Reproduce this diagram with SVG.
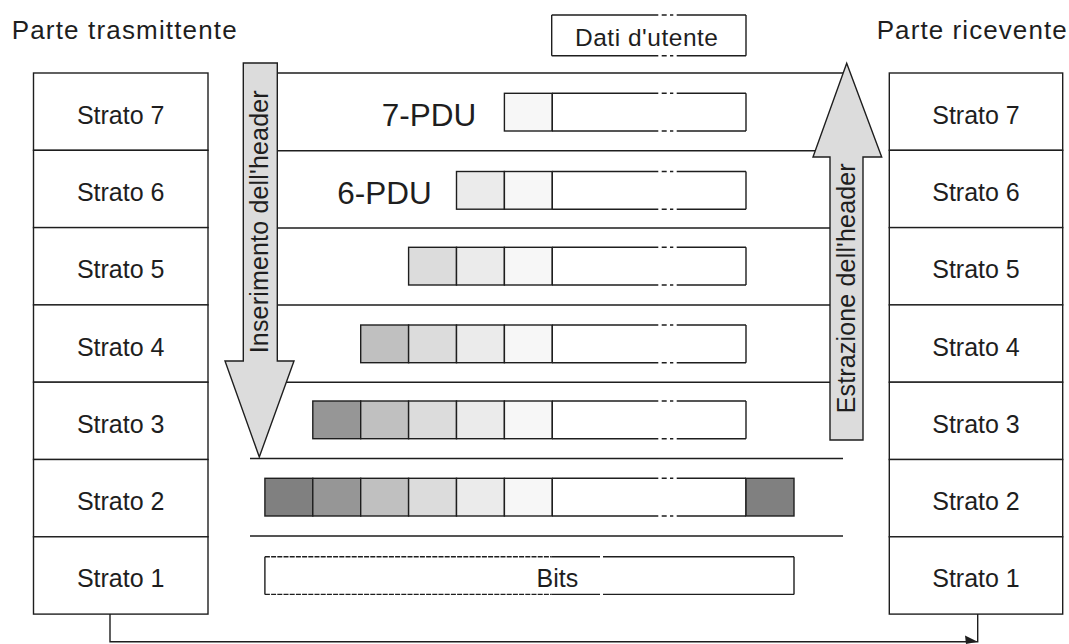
<svg xmlns="http://www.w3.org/2000/svg" width="1069" height="644" viewBox="0 0 1069 644">
  <style>
    .box { fill: #ffffff; stroke: #1e1e1e; stroke-width: 1.4; }
    .ln { fill: none; stroke: #1e1e1e; stroke-width: 1.4; }
    .cell { stroke: #1e1e1e; stroke-width: 1.4; }
    .arrow { fill: #dcdcdc; stroke: #1e1e1e; stroke-width: 1.4; stroke-linejoin: miter; }
    .t { font-family: "Liberation Sans", Arial, sans-serif; fill: #1e1e1e; }
    .lbl { font-size: 25px; text-anchor: middle; }
    .title { font-size: 26px; }
    .pdu { font-size: 31.5px; }
    .h1 { fill: #f7f7f7; }
    .h2 { fill: #ebebeb; }
    .h3 { fill: #dcdcdc; }
    .h4 { fill: #c0c0c0; }
    .h5 { fill: #969696; }
    .h6 { fill: #808080; }
  </style>
  <defs>
    <!-- user-data block with a break mark in its top and bottom edges -->
    <g id="data">
      <rect x="552.3" y="0" width="193.7" height="37.7" fill="#ffffff"/>
      <path class="ln" d="M552.3,0 V37.7 M746,0 V37.7
        M552.3,0 H658.3 M661.7,0 H666.7 M670,0 H673.3 M676.7,0 H746
        M552.3,37.7 H658.3 M661.7,37.7 H666.7 M670,37.7 H673.3 M676.7,37.7 H746"/>
    </g>
  </defs>

  <rect x="0" y="0" width="1069" height="644" fill="#ffffff"/>

  <!-- side titles -->
  <text class="t title" x="11.7" y="38.5" textLength="225" lengthAdjust="spacing">Parte trasmittente</text>
  <text class="t title" x="876.7" y="39" textLength="190" lengthAdjust="spacing">Parte ricevente</text>

  <!-- sending stack -->
  <g id="tx-strato7"><rect class="box" x="33.5" y="73" width="174.5" height="77.3"/><text class="t lbl" x="120.7" y="123.8">Strato 7</text></g>
  <g id="tx-strato6"><rect class="box" x="33.5" y="150.3" width="174.5" height="77.3"/><text class="t lbl" x="120.7" y="201.1">Strato 6</text></g>
  <g id="tx-strato5"><rect class="box" x="33.5" y="227.6" width="174.5" height="77.3"/><text class="t lbl" x="120.7" y="278.4">Strato 5</text></g>
  <g id="tx-strato4"><rect class="box" x="33.5" y="304.9" width="174.5" height="77.3"/><text class="t lbl" x="120.7" y="355.7">Strato 4</text></g>
  <g id="tx-strato3"><rect class="box" x="33.5" y="382.2" width="174.5" height="77.3"/><text class="t lbl" x="120.7" y="433">Strato 3</text></g>
  <g id="tx-strato2"><rect class="box" x="33.5" y="459.5" width="174.5" height="77.3"/><text class="t lbl" x="120.7" y="510.3">Strato 2</text></g>
  <g id="tx-strato1"><rect class="box" x="33.5" y="536.8" width="174.5" height="77.3"/><text class="t lbl" x="120.7" y="587.1">Strato 1</text></g>

  <!-- receiving stack -->
  <g id="rx-strato7"><rect class="box" x="889.3" y="73" width="173.4" height="77.3"/><text class="t lbl" x="976" y="123.8">Strato 7</text></g>
  <g id="rx-strato6"><rect class="box" x="889.3" y="150.3" width="173.4" height="77.3"/><text class="t lbl" x="976" y="201.1">Strato 6</text></g>
  <g id="rx-strato5"><rect class="box" x="889.3" y="227.6" width="173.4" height="77.3"/><text class="t lbl" x="976" y="278.4">Strato 5</text></g>
  <g id="rx-strato4"><rect class="box" x="889.3" y="304.9" width="173.4" height="77.3"/><text class="t lbl" x="976" y="355.7">Strato 4</text></g>
  <g id="rx-strato3"><rect class="box" x="889.3" y="382.2" width="173.4" height="77.3"/><text class="t lbl" x="976" y="433">Strato 3</text></g>
  <g id="rx-strato2"><rect class="box" x="889.3" y="459.5" width="173.4" height="77.3"/><text class="t lbl" x="976" y="510.3">Strato 2</text></g>
  <g id="rx-strato1"><rect class="box" x="889.3" y="536.8" width="173.4" height="77.3"/><text class="t lbl" x="976" y="587.1">Strato 1</text></g>

  <!-- layer separators in the middle area -->
  <path class="ln" d="M250,73 H843 M250,150.8 H843 M250,228 H843 M250,305 H843 M250,382.2 H843 M250,458.5 H843 M250,536 H843"/>

  <!-- user data -->
  <g id="dati-utente">
    <rect x="551.7" y="15" width="194.3" height="40.7" fill="#ffffff"/>
    <path class="ln" d="M551.7,15 V55.7 M746,15 V55.7
      M551.7,15 H658.3 M661.7,15 H666.7 M670,15 H673.3 M676.7,15 H746
      M551.7,55.7 H658.3 M661.7,55.7 H666.7 M670,55.7 H673.3 M676.7,55.7 H746"/>
    <text class="t" x="575" y="45.7" font-size="24.5" textLength="143" lengthAdjust="spacing">Dati d'utente</text>
  </g>

  <!-- 7-PDU -->
  <g id="pdu7">
    <text class="t pdu" x="381.7" y="126">7-PDU</text>
    <rect class="cell h1" x="504.4" y="93.3" width="47.9" height="37.7"/>
    <use href="#data" y="93.3"/>
  </g>

  <!-- 6-PDU -->
  <g id="pdu6">
    <text class="t pdu" x="337.3" y="204.3">6-PDU</text>
    <rect class="cell h2" x="456.5" y="171.5" width="47.9" height="37.7"/>
    <rect class="cell h1" x="504.4" y="171.5" width="47.9" height="37.7"/>
    <use href="#data" y="171.5"/>
  </g>

  <!-- 5-PDU -->
  <g id="pdu5">
    <rect class="cell h3" x="408.6" y="247.3" width="47.9" height="37.7"/>
    <rect class="cell h2" x="456.5" y="247.3" width="47.9" height="37.7"/>
    <rect class="cell h1" x="504.4" y="247.3" width="47.9" height="37.7"/>
    <use href="#data" y="247.3"/>
  </g>

  <!-- 4-PDU -->
  <g id="pdu4">
    <rect class="cell h4" x="360.7" y="325" width="47.9" height="37.7"/>
    <rect class="cell h3" x="408.6" y="325" width="47.9" height="37.7"/>
    <rect class="cell h2" x="456.5" y="325" width="47.9" height="37.7"/>
    <rect class="cell h1" x="504.4" y="325" width="47.9" height="37.7"/>
    <use href="#data" y="325"/>
  </g>

  <!-- 3-PDU -->
  <g id="pdu3">
    <rect class="cell h5" x="312.8" y="401" width="47.9" height="37.7"/>
    <rect class="cell h4" x="360.7" y="401" width="47.9" height="37.7"/>
    <rect class="cell h3" x="408.6" y="401" width="47.9" height="37.7"/>
    <rect class="cell h2" x="456.5" y="401" width="47.9" height="37.7"/>
    <rect class="cell h1" x="504.4" y="401" width="47.9" height="37.7"/>
    <use href="#data" y="401"/>
  </g>

  <!-- frame with trailer -->
  <g id="pdu2">
    <rect class="cell h6" x="264.9" y="478.3" width="47.9" height="37.7"/>
    <rect class="cell h5" x="312.8" y="478.3" width="47.9" height="37.7"/>
    <rect class="cell h4" x="360.7" y="478.3" width="47.9" height="37.7"/>
    <rect class="cell h3" x="408.6" y="478.3" width="47.9" height="37.7"/>
    <rect class="cell h2" x="456.5" y="478.3" width="47.9" height="37.7"/>
    <rect class="cell h1" x="504.4" y="478.3" width="47.9" height="37.7"/>
    <use href="#data" y="478.3"/>
    <rect class="cell h6" x="746" y="478.3" width="48" height="37.7"/>
  </g>

  <!-- bit stream -->
  <g id="bits">
    <rect x="264.9" y="556.7" width="529.1" height="37.7" fill="#ffffff"/>
    <path class="ln" d="M264.9,556.7 V594.4 M794,556.7 V594.4 M551.7,556.7 H600 M603,556.7 H794 M551.7,594.4 H600 M603,594.4 H794"/>
    <path class="ln" stroke-dasharray="5 1.2" d="M264.9,556.7 H551.7 M264.9,594.4 H551.7"/>
    <text class="t" x="557.3" y="586.7" font-size="25" text-anchor="middle">Bits</text>
  </g>

  <!-- header insertion / extraction arrows -->
  <g id="inserimento">
    <polygon class="arrow" points="243.3,63 277.3,63 277.3,361 294,361 259.3,457 225,361 243.3,361"/>
    <text class="t" transform="translate(268,353.3) rotate(-90)" font-size="25" textLength="263" lengthAdjust="spacing">Inserimento dell'header</text>
  </g>
  <g id="estrazione">
    <polygon class="arrow" points="830,440 863,440 863,157 881.7,157 846.7,63.3 813,157 830,157"/>
    <text class="t" transform="translate(855,413.3) rotate(-90)" font-size="25" textLength="250" lengthAdjust="spacing">Estrazione dell'header</text>
  </g>

  <!-- physical medium between the two stacks -->
  <g id="connectors">
    <path class="ln" d="M110,614.1 V641.7 H977.7 V614.1"/>
    <polygon points="965,635.5 977.7,641.7 966,644" fill="#1e1e1e"/>
  </g>
</svg>
